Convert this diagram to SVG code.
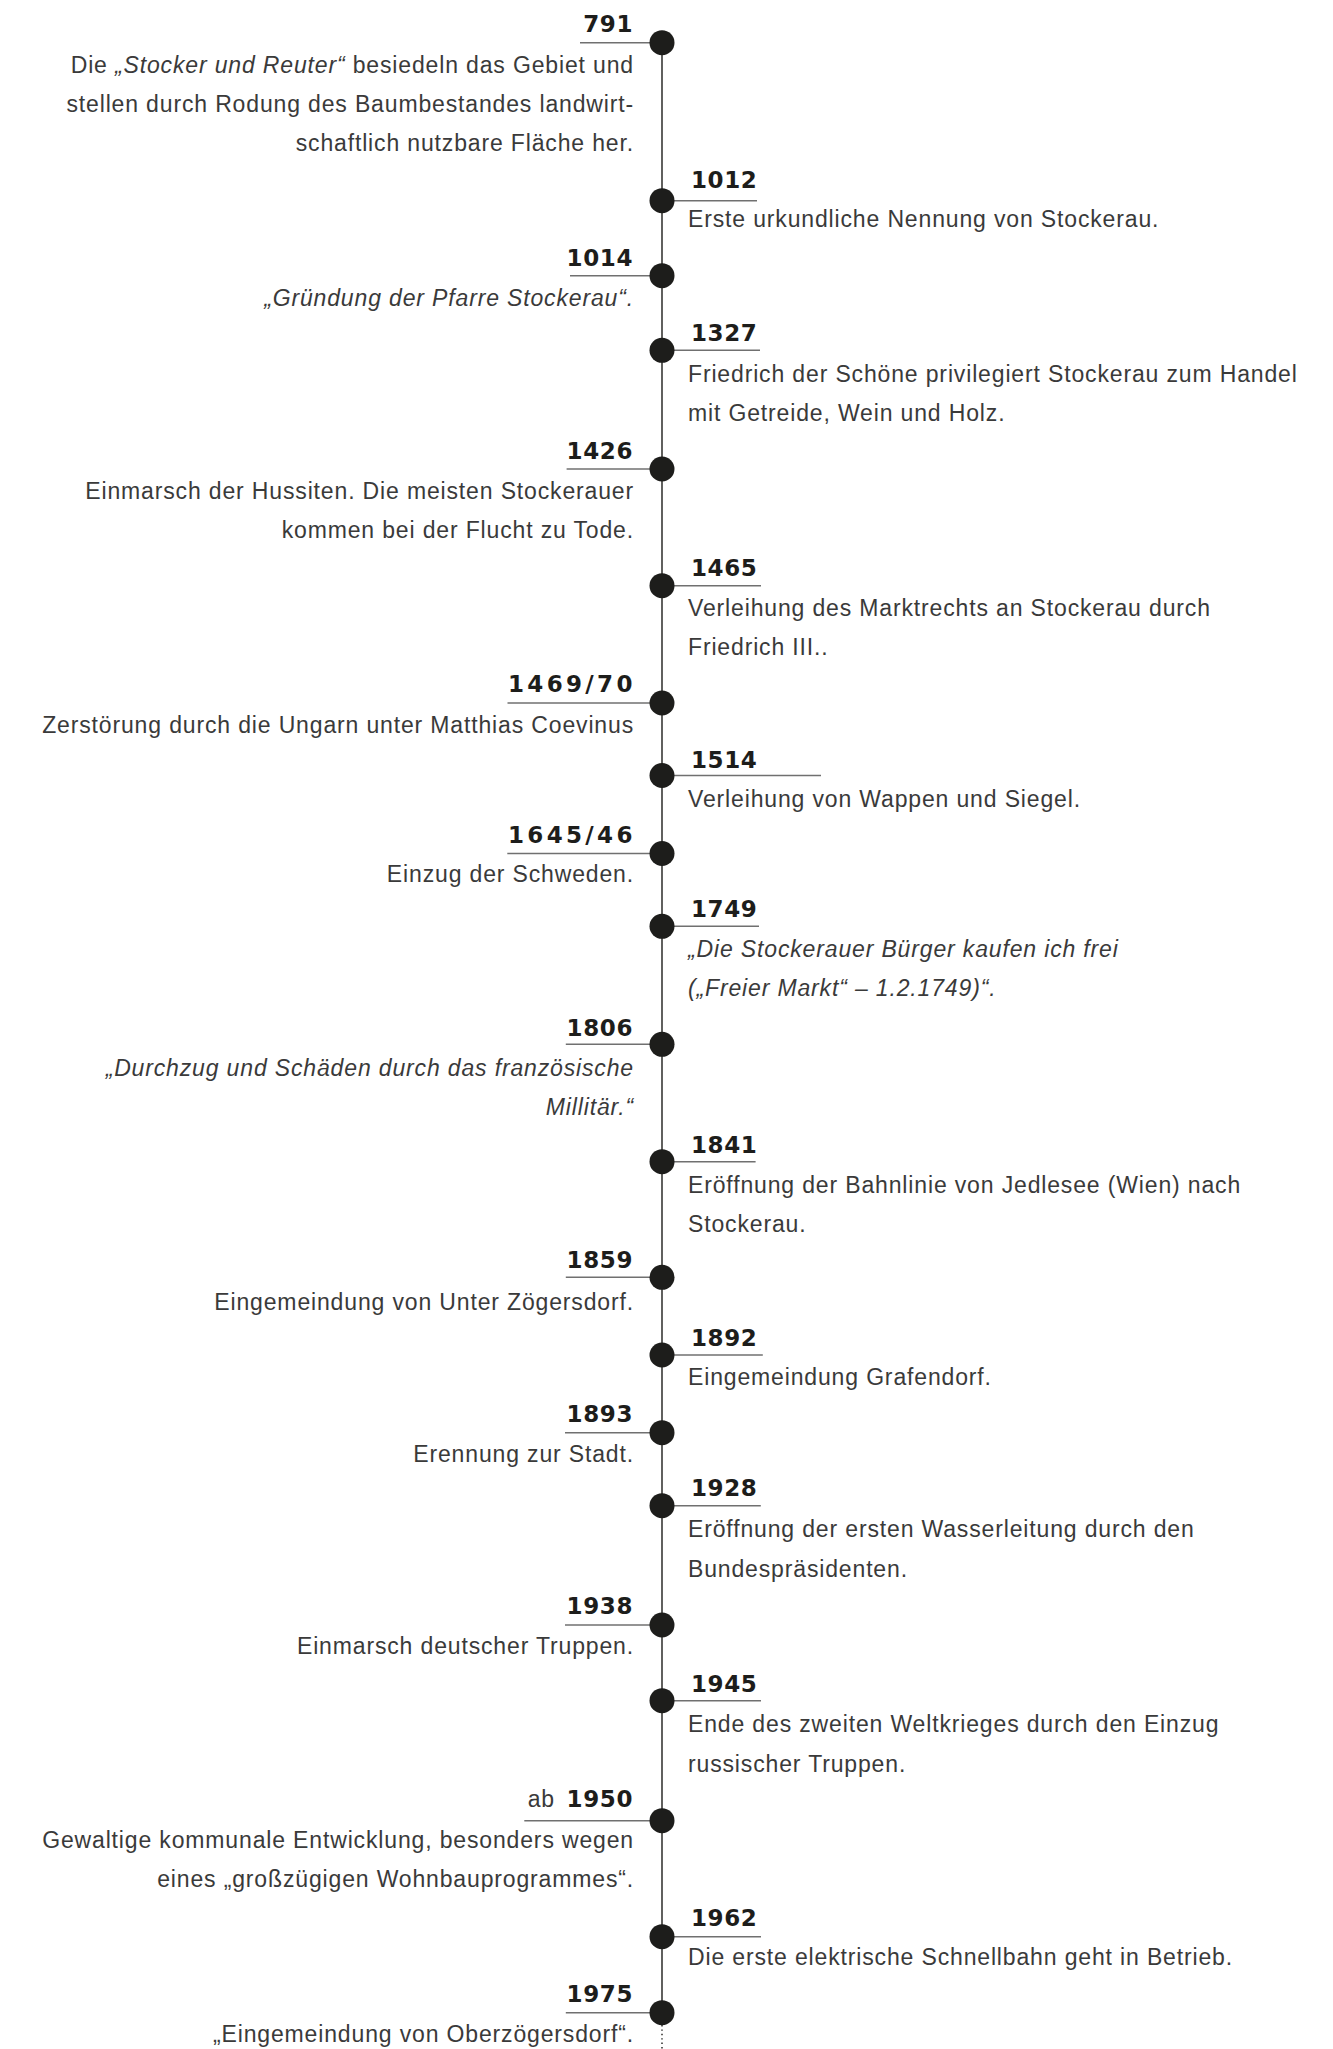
<svg xmlns="http://www.w3.org/2000/svg" width="1333" height="2049" viewBox="0 0 1333 2049">
<style>
.yr{font-family:"DejaVu Sans",sans-serif;font-weight:bold;font-size:23px;fill:#1d1d1b;letter-spacing:0.6px}
.d{font-family:"Liberation Sans",Arial,sans-serif;font-size:23px;letter-spacing:0.85px;fill:#3a3a3a}
.e{text-anchor:end}
.it{font-style:italic}
.ul{stroke:#707070;stroke-width:1.6;fill:none}
.dot{fill:#1d1d1b}
.axis{stroke:#1d1d1b;stroke-width:1.4;fill:none}
.dotted{stroke:#1d1d1b;stroke-width:1.4;stroke-dasharray:1.4 3;fill:none}
</style>
<rect width="1333" height="2049" fill="#ffffff"/>
<g id="connectors">
<line class="axis" x1="662" y1="42.7" x2="662" y2="2012.7"/>
<line class="dotted" x1="662" y1="2025" x2="662" y2="2049"/>
</g>
<g id="e791">
<line class="ul" x1="580" y1="42.7" x2="662" y2="42.7"/>
<circle class="dot" cx="662" cy="42.7" r="12.5"/>
<text class="yr e" x="633" y="31.7">791</text>
<text class="d e" x="634" y="72.7">Die <tspan class="it">„Stocker und Reuter“</tspan> besiedeln das Gebiet und</text>
<text class="d e" x="634" y="111.7">stellen durch Rodung des Baumbestandes landwirt-</text>
<text class="d e" x="634" y="150.7">schaftlich nutzbare Fläche her.</text>
</g>
<g id="e1012">
<line class="ul" x1="662" y1="200.7" x2="757" y2="200.7"/>
<circle class="dot" cx="662" cy="200.7" r="12.5"/>
<text class="yr" x="691" y="187.7">1012</text>
<text class="d" x="688" y="227.3">Erste urkundliche Nennung von Stockerau.</text>
</g>
<g id="e1014">
<line class="ul" x1="570" y1="275.7" x2="662" y2="275.7"/>
<circle class="dot" cx="662" cy="275.7" r="12.5"/>
<text class="yr e" x="633" y="266">1014</text>
<text class="d e it" x="634" y="305.5">„Gründung der Pfarre Stockerau“.</text>
</g>
<g id="e1327">
<line class="ul" x1="662" y1="350.3" x2="760" y2="350.3"/>
<circle class="dot" cx="662" cy="350.3" r="12.5"/>
<text class="yr" x="691" y="341">1327</text>
<text class="d" x="688" y="381.7">Friedrich der Schöne privilegiert Stockerau zum Handel</text>
<text class="d" x="688" y="420.7">mit Getreide, Wein und Holz.</text>
</g>
<g id="e1426">
<line class="ul" x1="566.6" y1="469" x2="662" y2="469"/>
<circle class="dot" cx="662" cy="469" r="12.5"/>
<text class="yr e" x="633" y="459">1426</text>
<text class="d e" x="634" y="499">Einmarsch der Hussiten. Die meisten Stockerauer</text>
<text class="d e" x="634" y="538.3">kommen bei der Flucht zu Tode.</text>
</g>
<g id="e1465">
<line class="ul" x1="662" y1="585.7" x2="761" y2="585.7"/>
<circle class="dot" cx="662" cy="585.7" r="12.5"/>
<text class="yr" x="691" y="576">1465</text>
<text class="d" x="688" y="616">Verleihung des Marktrechts an Stockerau durch</text>
<text class="d" x="688" y="655">Friedrich III..</text>
</g>
<g id="e1469">
<line class="ul" x1="507.5" y1="703" x2="662" y2="703"/>
<circle class="dot" cx="662" cy="703" r="12.5"/>
<text class="yr e" x="633" y="692" textLength="125" lengthAdjust="spacing">1469/70</text>
<text class="d e" x="634" y="732.7">Zerstörung durch die Ungarn unter Matthias Coevinus</text>
</g>
<g id="e1514">
<line class="ul" x1="662" y1="775.5" x2="821" y2="775.5"/>
<circle class="dot" cx="662" cy="775.5" r="12.5"/>
<text class="yr" x="691" y="767.5">1514</text>
<text class="d" x="688" y="807.3">Verleihung von Wappen und Siegel.</text>
</g>
<g id="e1645">
<line class="ul" x1="507.3" y1="853.5" x2="662" y2="853.5"/>
<circle class="dot" cx="662" cy="853.5" r="12.5"/>
<text class="yr e" x="633" y="842.7" textLength="125" lengthAdjust="spacing">1645/46</text>
<text class="d e" x="634" y="881.7">Einzug der Schweden.</text>
</g>
<g id="e1749">
<line class="ul" x1="662" y1="926.3" x2="759" y2="926.3"/>
<circle class="dot" cx="662" cy="926.3" r="12.5"/>
<text class="yr" x="691" y="917.3">1749</text>
<text class="d it" x="688" y="957.3">„Die Stockerauer Bürger kaufen ich frei</text>
<text class="d it" x="688" y="996">(„Freier Markt“ – 1.2.1749)“.</text>
</g>
<g id="e1806">
<line class="ul" x1="565.8" y1="1044.3" x2="662" y2="1044.3"/>
<circle class="dot" cx="662" cy="1044.3" r="12.5"/>
<text class="yr e" x="633" y="1036">1806</text>
<text class="d e it" x="634" y="1076.3">„Durchzug und Schäden durch das französische</text>
<text class="d e it" x="634" y="1115">Millitär.“</text>
</g>
<g id="e1841">
<line class="ul" x1="662" y1="1161.7" x2="755.6" y2="1161.7"/>
<circle class="dot" cx="662" cy="1161.7" r="12.5"/>
<text class="yr" x="691" y="1152.7">1841</text>
<text class="d" x="688" y="1192.7">Eröffnung der Bahnlinie von Jedlesee (Wien) nach</text>
<text class="d" x="688" y="1231.7">Stockerau.</text>
</g>
<g id="e1859">
<line class="ul" x1="565.8" y1="1277.3" x2="662" y2="1277.3"/>
<circle class="dot" cx="662" cy="1277.3" r="12.5"/>
<text class="yr e" x="633" y="1268.3">1859</text>
<text class="d e" x="634" y="1310">Eingemeindung von Unter Zögersdorf.</text>
</g>
<g id="e1892">
<line class="ul" x1="662" y1="1355" x2="762.8" y2="1355"/>
<circle class="dot" cx="662" cy="1355" r="12.5"/>
<text class="yr" x="691" y="1345.7">1892</text>
<text class="d" x="688" y="1385">Eingemeindung Grafendorf.</text>
</g>
<g id="e1893">
<line class="ul" x1="565" y1="1432.7" x2="662" y2="1432.7"/>
<circle class="dot" cx="662" cy="1432.7" r="12.5"/>
<text class="yr e" x="633" y="1422.3">1893</text>
<text class="d e" x="634" y="1462">Erennung zur Stadt.</text>
</g>
<g id="e1928">
<line class="ul" x1="662" y1="1505.7" x2="760.8" y2="1505.7"/>
<circle class="dot" cx="662" cy="1505.7" r="12.5"/>
<text class="yr" x="691" y="1496">1928</text>
<text class="d" x="688" y="1536.7">Eröffnung der ersten Wasserleitung durch den</text>
<text class="d" x="688" y="1576.7">Bundespräsidenten.</text>
</g>
<g id="e1938">
<line class="ul" x1="565" y1="1625" x2="662" y2="1625"/>
<circle class="dot" cx="662" cy="1625" r="12.5"/>
<text class="yr e" x="633" y="1614">1938</text>
<text class="d e" x="634" y="1654">Einmarsch deutscher Truppen.</text>
</g>
<g id="e1945">
<line class="ul" x1="662" y1="1700.7" x2="761" y2="1700.7"/>
<circle class="dot" cx="662" cy="1700.7" r="12.5"/>
<text class="yr" x="691" y="1691.7">1945</text>
<text class="d" x="688" y="1731.7">Ende des zweiten Weltkrieges durch den Einzug</text>
<text class="d" x="688" y="1771.7">russischer Truppen.</text>
</g>
<g id="e1950">
<line class="ul" x1="524.3" y1="1820.7" x2="662" y2="1820.7"/>
<circle class="dot" cx="662" cy="1820.7" r="12.5"/>
<text class="d e" x="555" y="1806.7">ab</text>
<text class="yr e" x="633" y="1806.7">1950</text>
<text class="d e" x="634" y="1847.7">Gewaltige kommunale Entwicklung, besonders wegen</text>
<text class="d e" x="634" y="1886.7">eines „großzügigen Wohnbauprogrammes“.</text>
</g>
<g id="e1962">
<line class="ul" x1="662" y1="1936.7" x2="761" y2="1936.7"/>
<circle class="dot" cx="662" cy="1936.7" r="12.5"/>
<text class="yr" x="691" y="1926">1962</text>
<text class="d" x="688" y="1965">Die erste elektrische Schnellbahn geht in Betrieb.</text>
</g>
<g id="e1975">
<line class="ul" x1="565.8" y1="2012.7" x2="662" y2="2012.7"/>
<circle class="dot" cx="662" cy="2012.7" r="12.5"/>
<text class="yr e" x="633" y="2001.7">1975</text>
<text class="d e" x="634" y="2042">„Eingemeindung von Oberzögersdorf“.</text>
</g>
</svg>
